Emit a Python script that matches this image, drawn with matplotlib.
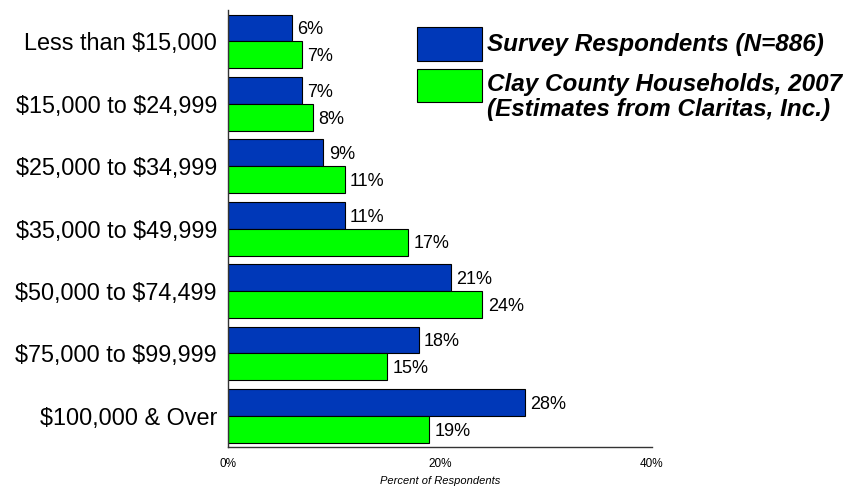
import numpy as np
import matplotlib.pyplot as plt
from matplotlib.patches import Rectangle

plt.rcParams['font.family'] = ['Liberation Sans', 'DejaVu Sans']

categories = ["Less than \\$15,000", "\\$15,000 to \\$24,999", "\\$25,000 to \\$34,999",
              "\\$35,000 to \\$49,999", "\\$50,000 to \\$74,499", "\\$75,000 to \\$99,999",
              "\\$100,000 & Over"]
survey = [6, 7, 9, 11, 21, 18, 28]
county = [7, 8, 11, 17, 24, 15, 19]
x_ticks = [0, 20, 40]
x_labels = ["0%", "20%", "40%"]

blue = '#0038b8'
green = '#00ff00'

fig = plt.figure(figsize=(8.51, 4.86), dpi=100)
ax = fig.add_axes([0.268, 0.080, 0.498, 0.899])

y = np.arange(len(categories))
h = 0.43
ax.barh(y - h / 2, survey, height=h, color=blue, edgecolor='black', linewidth=0.8)
ax.barh(y + h / 2, county, height=h, color=green, edgecolor='black', linewidth=0.8)

for yi, v in zip(y, survey):
    ax.text(v + 0.5, yi - h / 2 + 0.03, f"{v}%", va='center', ha='left', fontsize=13)
for yi, v in zip(y, county):
    ax.text(v + 0.5, yi + h / 2 + 0.03, f"{v}%", va='center', ha='left', fontsize=13)

ax.set_ylim(len(categories) - 0.5, -0.5)
ax.set_xlim(0, 40)
ax.set_yticks(y)
ax.set_yticklabels(categories, fontsize=16.8)
ax.set_xticks(x_ticks)
ax.set_xticklabels(x_labels, fontsize=8.5)
ax.tick_params(axis='both', length=0)
ax.tick_params(axis='y', pad=8)
ax.tick_params(axis='x', pad=8)
ax.set_xlabel("Percent of Respondents", fontsize=8, style='italic', labelpad=4)

for s in ['top', 'right']:
    ax.spines[s].set_visible(False)
for s in ['left', 'bottom']:
    ax.spines[s].set_color('#333333')
    ax.spines[s].set_linewidth(1.0)

# legend drawn by hand so the patch lines up with the first text line
W, H = 851, 486
def fx(px): return px / W
def fy(py): return 1 - py / H

fig.patches.append(Rectangle((fx(417), fy(61)), fx(482) - fx(417), fy(27) - fy(61),
                             transform=fig.transFigure, facecolor=blue,
                             edgecolor='black', linewidth=0.8))
fig.patches.append(Rectangle((fx(417), fy(102)), fx(482) - fx(417), fy(69) - fy(102),
                             transform=fig.transFigure, facecolor=green,
                             edgecolor='black', linewidth=0.8))
fig.text(fx(487), fy(45), "Survey Respondents (N=886)", fontsize=17.5,
         weight='bold', style='italic', va='center', ha='left')
fig.text(fx(487), fy(97), "Clay County Households, 2007\n(Estimates from Claritas, Inc.)",
         fontsize=17.5, weight='bold', style='italic', va='center', ha='left',
         linespacing=1.08)

fig.savefig("out.png", dpi=100)
